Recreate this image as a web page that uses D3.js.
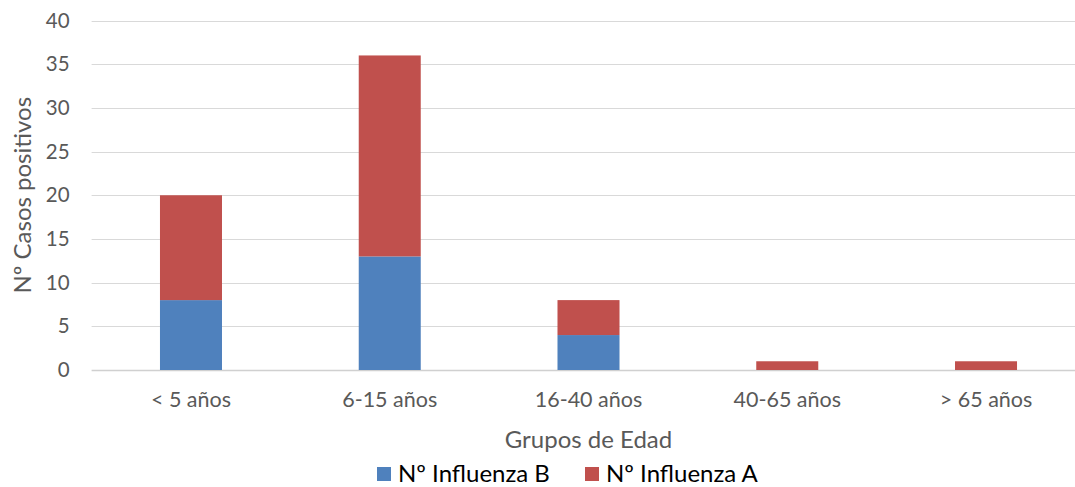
<!DOCTYPE html>
<html><head><meta charset="utf-8">
<script src="https://cdn.jsdelivr.net/npm/d3@7"></script>
<style>body{margin:0;background:#fff}svg{display:block}text{font-family:Lato,"Open Sans",sans-serif}</style>
</head><body><svg id="c" width="1075" height="487"></svg>
<script>
const categories = ["< 5 años", "6-15 años", "16-40 años", "40-65 años", "> 65 años"];
const influenzaB = [8, 13, 4, 0, 0];
const influenzaA = [12, 23, 4, 1, 1];
const yTicks = [0, 5, 10, 15, 20, 25, 30, 35, 40];
const seriesNames = ["Nº Influenza B", "Nº Influenza A"];
const colors = ["#4F81BD", "#C0504D"];

(function () {
const FONT = 'Lato,"Open Sans",sans-serif';
const svg = d3.select("#c");
const mLeft = 91.6, mRight = 1085.4, mTop = 20.5, mBottom = 370;
const x = d3.scaleBand().domain(categories).range([mLeft, mRight]).paddingInner(0.688).paddingOuter(0.344);
const y = d3.scaleLinear().domain([0, 40]).range([mBottom, mTop]);

// gridlines
svg.append("g").selectAll("line").data(yTicks).join("line")
  .attr("x1", mLeft).attr("x2", mRight)
  .attr("y1", d => Math.round(y(d)) + 0.5).attr("y2", d => Math.round(y(d)) + 0.5)
  .attr("stroke", d => d === 0 ? "#d0d0d0" : "#d9d9d9").attr("stroke-width", d => d === 0 ? 1.5 : 1.2);

// y axis labels
const yAxis = svg.append("g").attr("transform", `translate(${mLeft},0)`)
  .call(d3.axisLeft(y).tickValues(yTicks).tickSize(0).tickPadding(22));
yAxis.select(".domain").remove();
yAxis.selectAll("text").attr("font-size", 20.5).attr("fill", "#595959").attr("font-family", FONT);

// x axis labels
const xAxis = svg.append("g").attr("transform", `translate(0,${mBottom})`)
  .call(d3.axisBottom(x).tickSize(0).tickPadding(22));
xAxis.select(".domain").remove();
xAxis.selectAll("text").attr("font-size", 21.5).attr("fill", "#595959").attr("font-family", FONT);

// stacked bars
const data = categories.map((c, i) => ({cat: c, B: influenzaB[i], A: influenzaA[i]}));
const stack = d3.stack().keys(["B", "A"])(data);
svg.append("g").selectAll("g").data(stack).join("g")
  .attr("fill", (d, i) => colors[i])
  .selectAll("rect").data(d => d.filter(p => p[1] - p[0] > 0)).join("rect")
  .attr("x", d => x(d.data.cat)).attr("width", x.bandwidth())
  .attr("y", d => y(d[1])).attr("height", d => y(d[0]) - y(d[1]));

// axis titles
svg.append("text").attr("x", (mLeft + mRight) / 2).attr("y", 448)
  .attr("text-anchor", "middle").attr("font-size", 24).attr("fill", "#595959").text("Grupos de Edad");
svg.append("text").attr("transform", `translate(31,${(mTop + mBottom) / 2}) rotate(-90)`)
  .attr("text-anchor", "middle").attr("font-size", 24).attr("fill", "#595959").text("Nº Casos positivos");

// legend
const legendX = [377, 585];
const lg = svg.append("g");
seriesNames.forEach((n, i) => {
  lg.append("rect").attr("x", legendX[i]).attr("y", 467).attr("width", 14).attr("height", 14).attr("fill", colors[i]);
  lg.append("text").attr("x", legendX[i] + 21).attr("y", 482).attr("font-size", 24).attr("fill", "#000").text(n);
});
})();
</script></body></html>
